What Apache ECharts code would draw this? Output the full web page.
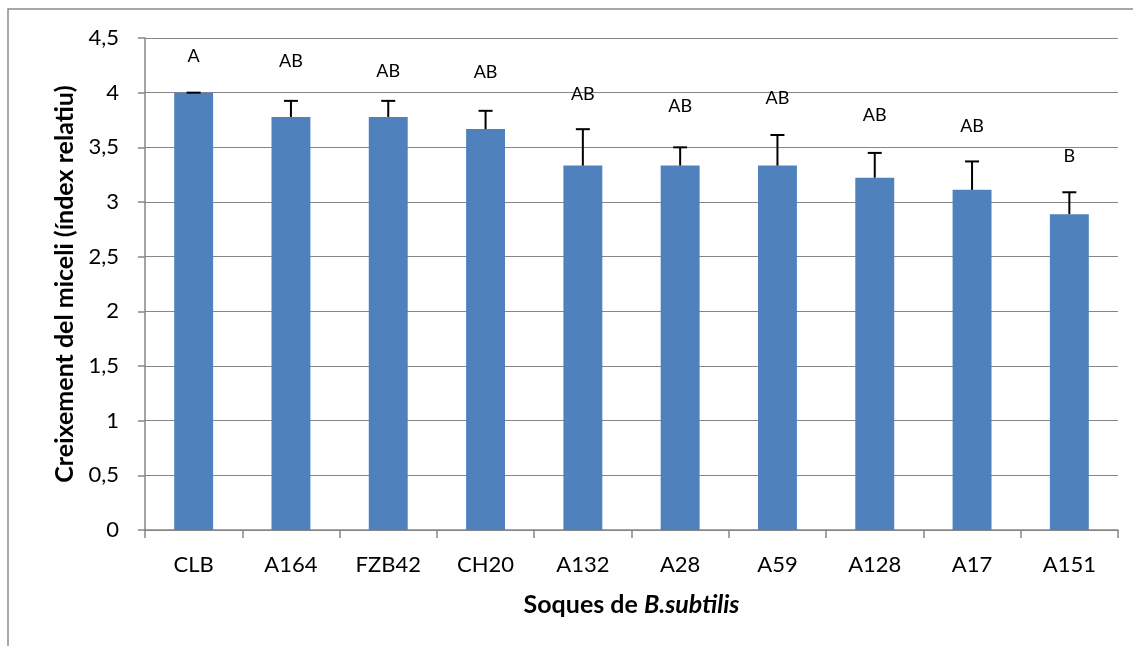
<!DOCTYPE html>
<html>
<head>
<meta charset="utf-8">
<script src="https://cdn.jsdelivr.net/npm/echarts@6/dist/echarts.min.js"></script>
<style>
html,body{margin:0;padding:0;background:#fff;}
#chart{width:1133px;height:646px;}
</style>
</head>
<body>
<div id="chart"></div>
<script>
const categories = ['CLB', 'A164', 'FZB42', 'CH20', 'A132', 'A28', 'A59', 'A128', 'A17', 'A151'];
const means = [4.0, 3.778, 3.778, 3.667, 3.333, 3.333, 3.333, 3.222, 3.111, 2.889];
const errors = [0, 0.147, 0.147, 0.167, 0.333, 0.167, 0.28, 0.227, 0.26, 0.2];
const letters = ['A', 'AB', 'AB', 'AB', 'AB', 'AB', 'AB', 'AB', 'AB', 'B'];
const letterY = [4.33, 4.29, 4.20, 4.19, 3.99, 3.88, 3.95, 3.79, 3.69, 3.42];
const yAxisName = 'Creixement del miceli (índex relatiu)';
const xAxisNamePlain = 'Soques de ';
const xAxisNameItalic = 'B.subtilis';

const FONT = 'Lato, "Open Sans", sans-serif';
const chart = echarts.init(document.getElementById('chart'), null, {renderer: 'canvas'});

const errData = means.map((m, i) => [i, m, errors[i]]);
const letterData = letterY.map((y, i) => [i, y]);

chart.setOption({
  animation: false,
  backgroundColor: '#ffffff',
  graphic: [{
    type: 'rect',
    shape: {x: 8, y: 9, width: 1300, height: 800},
    style: {fill: 'none', stroke: '#8c8c8c', lineWidth: 1.5},
    silent: true, z: -10
  }],
  grid: {left: 145, right: 15, top: 38, bottom: 116, containLabel: false},
  xAxis: {
    type: 'category',
    data: categories,
    name: '{b|' + xAxisNamePlain + '}{bi|' + xAxisNameItalic + '}',
    nameLocation: 'middle',
    nameGap: 62,
    nameTextStyle: {
      rich: {
        b: {fontFamily: FONT, fontWeight: 'bold', fontSize: 25, color: '#000'},
        bi: {fontFamily: FONT, fontWeight: 'bold', fontStyle: 'italic', fontSize: 25, color: '#000'}
      }
    },
    axisLine: {show: true, lineStyle: {color: '#868686', width: 1.5}},
    axisTick: {show: true, alignWithLabel: false, interval: 0, length: 8, lineStyle: {color: '#868686', width: 1.5}},
    axisLabel: {interval: 0, margin: 24, fontFamily: FONT, fontSize: 22, color: '#000'},
    splitLine: {show: false}
  },
  yAxis: {
    type: 'value',
    min: 0, max: 4.5, interval: 0.5,
    name: yAxisName,
    nameLocation: 'middle',
    nameGap: 67,
    nameTextStyle: {fontFamily: FONT, fontWeight: 'bold', fontSize: 25, color: '#000'},
    axisLine: {show: true, lineStyle: {color: '#868686', width: 1.5}},
    axisTick: {show: true, inside: false, length: 7, lineStyle: {color: '#868686', width: 1.5}},
    axisLabel: {margin: 26, fontFamily: FONT, fontSize: 22, color: '#000',
      formatter: v => String(v).replace('.', ',')},
    splitLine: {show: true, lineStyle: {color: '#868686', width: 1.2}}
  },
  series: [
    {
      type: 'bar',
      data: means,
      barWidth: '40%',
      itemStyle: {color: '#4F81BD'},
      z: 2
    },
    {
      type: 'custom',
      data: errData,
      z: 3,
      renderItem: function (params, api) {
        const i = api.value(0);
        const m = api.value(1);
        const e = api.value(2);
        const base = api.coord([i, m]);
        const top = api.coord([i, m + e]);
        const half = 7;
        const style = {stroke: '#000', lineWidth: 2};
        return {
          type: 'group',
          children: [
            {type: 'line', shape: {x1: top[0], y1: base[1], x2: top[0], y2: top[1]}, style: style},
            {type: 'line', shape: {x1: top[0] - half, y1: top[1], x2: top[0] + half, y2: top[1]}, style: style}
          ]
        };
      }
    },
    {
      type: 'custom',
      data: letterData,
      z: 4,
      renderItem: function (params, api) {
        const p = api.coord([api.value(0), api.value(1)]);
        return {
          type: 'text',
          x: p[0], y: p[1],
          style: {
            text: letters[params.dataIndex],
            fontFamily: FONT, fontSize: 18, fill: '#000',
            align: 'center', verticalAlign: 'middle'
          }
        };
      }
    }
  ]
});
</script>
</body>
</html>
